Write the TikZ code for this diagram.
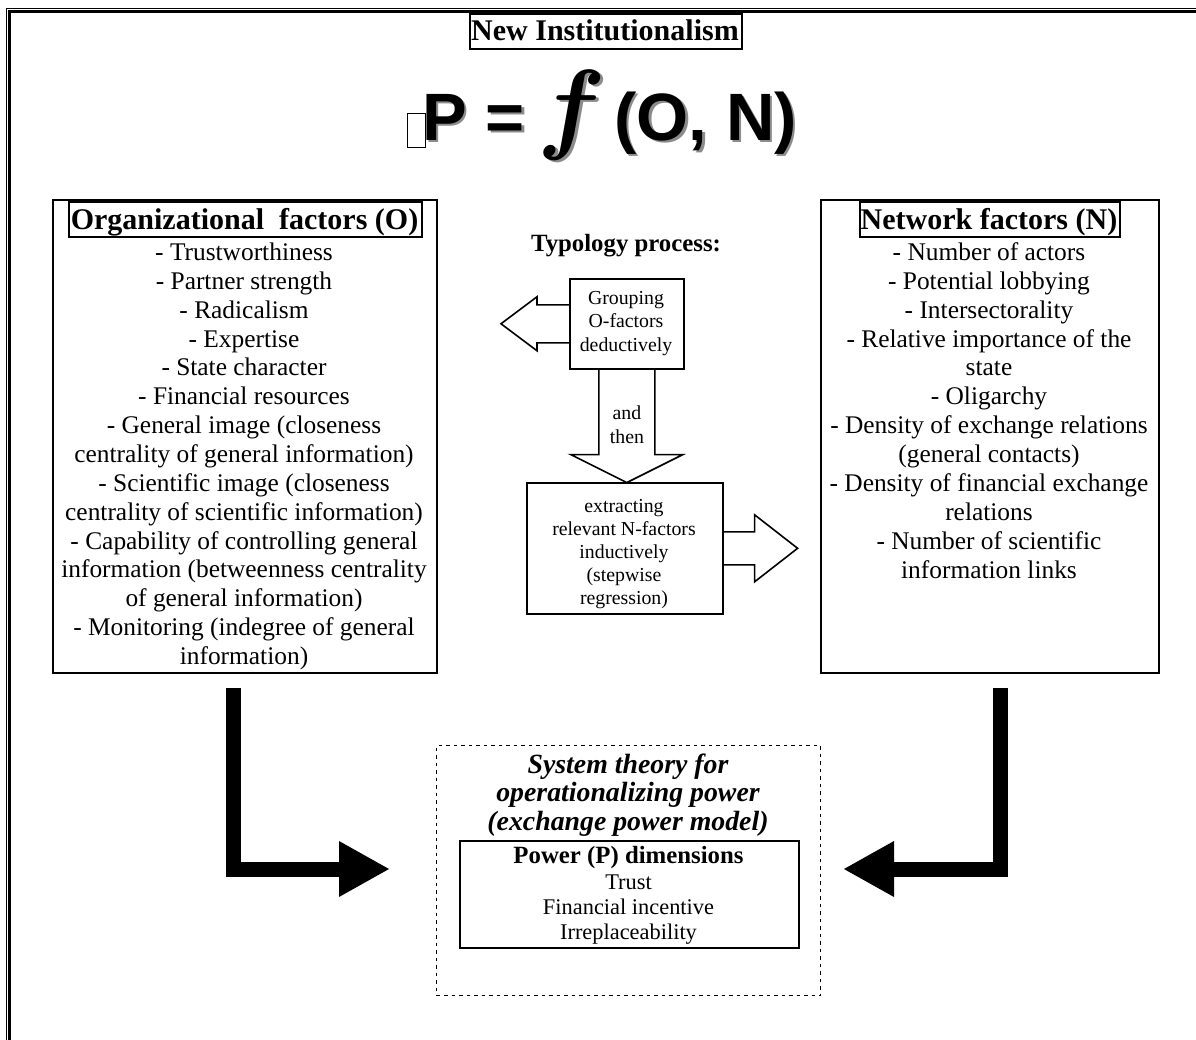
\RequirePackage{fix-cm}
\documentclass[tikz,border=0pt]{standalone}
\usepackage{fontspec}
\setmainfont{Liberation Serif}
\newfontfamily\formfont{Liberation Sans}
\usetikzlibrary{arrows.meta}
\begin{document}
\begin{tikzpicture}[x=0.5pt,y=-0.5pt,
  frame/.style={draw, line width=0.8pt, inner sep=0pt, anchor=north west},
  txt/.style={inner sep=0pt, align=center, anchor=base},
  listtxt/.style={txt, font=\fontsize{12.7}{14.43}\selectfont},
  headtxt/.style={inner sep=0pt, anchor=base, font=\fontsize{15}{18}\selectfont\bfseries},
  smalltxt/.style={txt, font=\fontsize{9.9}{11.6}\selectfont},
  blockarrow/.style={draw, line width=0.8pt, line join=miter},
  bigarrow/.style={line width=7.5pt, line join=miter, -{Triangle[length=25.5pt,width=26pt]}},
  formula/.style={inner sep=0pt, font=\formfont\bfseries\fontsize{33.5}{40}\selectfont},
  fitalic/.style={inner sep=0pt, anchor=base, font=\fontsize{50.5}{52}\selectfont\boldmath},
  shadowcol/.style={text=black!45},
]
\useasboundingbox (0,0) rectangle (1196,1040);
% page border (thin + thick)
\draw[line width=0.5pt] (6.5,1040) -- (6.5,8.5) -- (1196,8.5);
\draw[line width=1.5pt] (9.5,1040) -- (9.5,11) -- (1196,11);

% title
\node[frame, minimum width=136pt, minimum height=17.5pt] (titlebox) at (469,13) {};
\node[headtxt] (title) at (605,40) {New Institutionalism};

% formula
\node[draw, line width=0.5pt, inner sep=0pt, minimum width=9pt, minimum height=17pt, anchor=north west] (glyphbox) at (407,113) {};
\node[formula, shadowcol, anchor=base west] (fPs) at (424.5,142.5) {P =};
\node[fitalic, shadowcol] (ffs) at (574.5,142.5) {$f$};
\node[formula, shadowcol, anchor=base west] (fONs) at (616.5,142.5) {(O, N)};
\node[formula, anchor=base west] (fP) at (422,140) {P =};
\node[fitalic] (ff) at (572,140) {$f$};
\node[formula, anchor=base west] (fON) at (614,140) {(O, N)};

% organizational factors
\node[frame, minimum width=192pt, minimum height=236.5pt] (obox) at (52,199) {};
\node[frame, minimum width=176.5pt, minimum height=17.5pt] (otitlebox) at (68,201) {};
\node[headtxt] (otitle) at (244.5,229) {Organizational\ \ factors (O)};
\node[listtxt] (olist) at (244,664.5) {- Trustworthiness\\- Partner strength\\- Radicalism\\- Expertise\\- State character\\- Financial resources\\- General image (closeness\\centrality of general information)\\- Scientific image (closeness\\centrality of scientific information)\\- Capability of controlling general\\information (betweenness centrality\\of general information)\\- Monitoring (indegree of general\\information)};

% network factors
\node[frame, minimum width=169pt, minimum height=236.5pt] (nbox) at (820,199) {};
\node[frame, minimum width=130pt, minimum height=17.5pt] (ntitlebox) at (859,201) {};
\node[headtxt] (ntitle) at (989,229) {Network factors (N)};
\node[listtxt] (nlist) at (989,578) {- Number of actors\\- Potential lobbying\\- Intersectorality\\- Relative importance of the\\state\\- Oligarchy\\- Density of exchange relations\\(general contacts)\\- Density of financial exchange\\relations\\- Number of scientific\\information links};

% typology process
\node[txt, font=\fontsize{12.4}{15}\selectfont\bfseries] (typ) at (626,251) {Typology process:};
\node[frame, minimum width=57pt, minimum height=45pt] (g1) at (569,278) {};
\node[smalltxt] (g1t) at (626,351) {Grouping\\O-factors\\deductively};
\draw[blockarrow] (g1.west) ++(0,-19) -- ++(-32,0) -- ++(0,-8) -- ++(-36,27) -- ++(36,27) -- ++(0,-8) -- ++(32,0);
\draw[blockarrow] (g1.south) ++(-28,0) -- ++(0,85) -- ++(-28,0) -- ++(56,28) -- ++(56,-28) -- ++(-28,0) -- ++(0,-85);
\node[smalltxt, font=\fontsize{9.9}{12}\selectfont] (andthen) at (627,443.5) {and\\then};
\node[frame, minimum width=98pt, minimum height=65.5pt] (g2) at (526,482) {};
\node[smalltxt, font=\fontsize{9.9}{11.5}\selectfont] (g2t) at (624,604.5) {extracting\\relevant N-factors\\inductively\\(stepwise\\regression)};
\draw[blockarrow] (g2.east) ++(0,-16.5) -- ++(31,0) -- ++(0,-17) -- ++(43,33.5) -- ++(-43,33.5) -- ++(0,-17) -- ++(-31,0);

% system theory box
\node[frame, dash pattern=on 1.75pt off 2pt, line width=0.7pt, minimum width=192pt, minimum height=125pt] (sys) at (436,745) {};
\node[txt, font=\fontsize{13.9}{14.25}\selectfont\bfseries\itshape] (systxt) at (628,830) {System theory for\\operationalizing power\\(exchange power model)};
\node[frame, minimum width=169.5pt, minimum height=53.5pt] (pbox) at (459,840) {};
\node[txt, font=\fontsize{12.4}{15}\selectfont\bfseries] (ptitle) at (628.5,863) {Power (P) dimensions};
\node[txt, font=\fontsize{11.2}{12.5}\selectfont] (pitems) at (628.5,939) {Trust\\Financial incentive\\Irreplaceability};

% big L arrows
\coordinate (la1) at (233.5,688);
\coordinate (la2) at (390,869);
\draw[bigarrow] (la1) |- (la2);
\coordinate (ra1) at (1000.5,688);
\coordinate (ra2) at (843,869);
\draw[bigarrow] (ra1) |- (ra2);
\end{tikzpicture}
\end{document}
